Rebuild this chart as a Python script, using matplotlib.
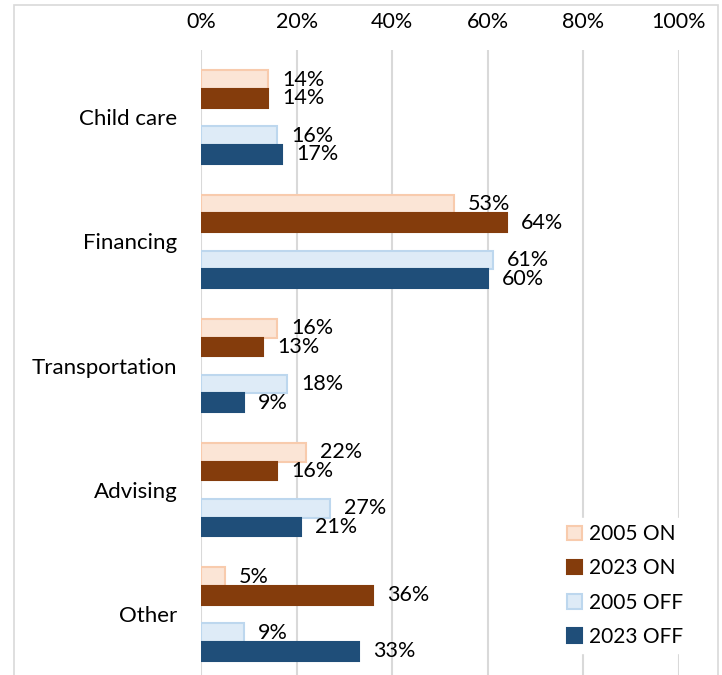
import matplotlib
matplotlib.use("Agg")
import matplotlib.pyplot as plt
from matplotlib.patches import Rectangle
import numpy as np

categories = ["Child care", "Financing", "Transportation", "Advising", "Other"]
series_names = ["2005 ON", "2023 ON", "2005 OFF", "2023 OFF"]
on_2005 = [14, 53, 16, 22, 5]
on_2023 = [14, 64, 13, 16, 36]
off_2005 = [16, 61, 18, 27, 9]
off_2023 = [17, 60, 9, 21, 33]
x_ticks = [0, 20, 40, 60, 80, 100]
x_tick_labels = ["0%", "20%", "40%", "60%", "80%", "100%"]

plt.rcParams['font.family'] = ['Lato', 'DejaVu Sans']
FS = 15.5

fig = plt.figure(figsize=(7.22, 6.75), dpi=100)
ax = fig.add_axes([201/722, 0.0, (679-201)/722, 1 - 50/675])

h = 0.15
offsets = [-2*h, -h, h, 2*h]
fills = ["#FBE5D6", "#843C0C", "#DEEBF7", "#1F4E79"]
edges = ["#F8CBAD", "#843C0C", "#BDD7EE", "#1F4E79"]
data = [on_2005, on_2023, off_2005, off_2023]
y = np.arange(len(categories))

for vals, off, fc, ec, name in zip(data, offsets, fills, edges, series_names):
    bars = ax.barh(y + off, vals, height=h, color=fc, edgecolor=ec,
                   linewidth=1.5, label=name, zorder=3)
    for b, v in zip(bars, vals):
        ax.annotate(f"{v}%", xy=(v, b.get_y() + b.get_height()/2),
                    xytext=(10, 0), textcoords="offset points",
                    ha="left", va="center", fontsize=FS, color="#000000", zorder=4)

ax.set_xlim(0, 100)
ax.set_ylim(4 + (675-614)/124.25, -(117-50)/124.25)
ax.set_xticks(x_ticks)
ax.set_xticklabels(x_tick_labels, fontsize=FS)
ax.xaxis.tick_top()
ax.tick_params(axis="x", length=0, pad=13)
ax.set_yticks(y)
ax.set_yticklabels(categories, fontsize=16)
ax.tick_params(axis="y", length=0, pad=17)
ax.grid(axis="x", color="#D9D9D9", linewidth=1.5, zorder=0)
ax.set_axisbelow(True)
for s in ax.spines.values():
    s.set_visible(False)

leg = ax.legend(loc="upper left", bbox_to_anchor=(561/722, 1 - 518/675),
                bbox_transform=fig.transFigure, frameon=True, fontsize=15,
                handlelength=0.7, handleheight=0.7, handletextpad=0.35,
                labelspacing=0.68, borderpad=0.3, borderaxespad=0,
                fancybox=False)
leg.get_frame().set_edgecolor("white")
leg.get_frame().set_facecolor("white")
leg.get_frame().set_alpha(1)
leg.set_zorder(10)

fig.patches.append(Rectangle((14/722, -0.1), (718-14)/722, 1.1 - 5/675,
                             transform=fig.transFigure, fill=False,
                             edgecolor="#D9D9D9", linewidth=1.2, zorder=20))

fig.savefig("out.png", dpi=100)
